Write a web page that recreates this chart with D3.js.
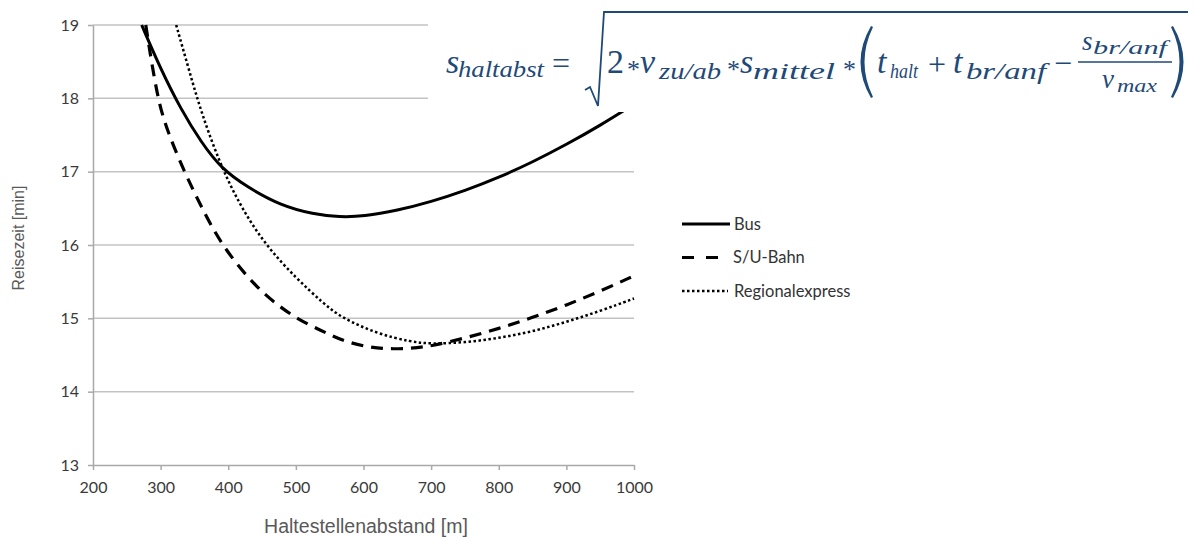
<!DOCTYPE html>
<meta charset="utf-8">
<style>
body { margin: 0; background: #fff; }
svg { display: block; }
.grid line { stroke: #c3c3c3; stroke-width: 1.5px; }
.axis path, .axis line { stroke: #a9a9a9; stroke-width: 1.5px; }
.axis text { font-family: Lato, sans-serif; font-size: 16px; fill: #3a3a3a; }
.title { font-family: "Liberation Sans", Arial, sans-serif; fill: #595959; }
.legend text { font-family: Lato, sans-serif; font-size: 16.5px; fill: #333; }
.f { font-family: "Liberation Serif", serif; font-style: italic; fill: #1f4a78; }
.f.up { font-style: normal; }
</style>
<body>
<script src="https://d3js.org/d3.v7.min.js"></script>
<script>

// tick values
var xTicks = [200, 300, 400, 500, 600, 700, 800, 900, 1000];
var yTicks = [13, 14, 15, 16, 17, 18, 19];

var seriesNames = ["Bus", "S/U-Bahn", "Regionalexpress"];

// [Haltestellenabstand m, Reisezeit min]
var bus = [[272, 19.0], [300, 18.4], [330, 17.85], [360, 17.4], [390, 17.04],
  [428, 16.79], [477, 16.54], [526, 16.42], [565, 16.38], [600, 16.39],
  [650, 16.47], [700, 16.59], [750, 16.74], [800, 16.92], [850, 17.13],
  [900, 17.37], [950, 17.63], [1000, 17.92]];
var sBahn = [[278, 19.0], [295, 18.0], [310, 17.55], [335, 17.0], [360, 16.52],
  [390, 16.0], [440, 15.42], [495, 15.02], [536, 14.84], [570, 14.69], [605, 14.61],
  [635, 14.58], [670, 14.59], [700, 14.62], [750, 14.73], [800, 14.86],
  [850, 15.01], [900, 15.18], [950, 15.37], [1000, 15.58]];
var regio = [[323, 19.0], [340, 18.45], [354, 18.0], [370, 17.55], [393, 17.0],
  [420, 16.5], [455, 16.0], [500, 15.55], [540, 15.21], [567, 15.01], [620, 14.79],
  [670, 14.68], [700, 14.65], [750, 14.67], [800, 14.73], [850, 14.82],
  [900, 14.95], [950, 15.1], [1000, 15.27]];

var series = [bus, sBahn, regio];

// set the dimensions and margins of the graph
var margin = {top: 25, left: 93},
    width = 541,
    height = 440;

var x = d3.scaleLinear().domain([200, 1000]).range([0, width]);
var y = d3.scaleLinear().domain([13, 19]).range([height, 0]);

// basis spline smooths out the reading noise in the points
var line = d3.line()
    .x(function(d) { return x(d[0]); })
    .y(function(d) { return y(d[1]); })
    .curve(d3.curveBasis);

var svg = d3.select("body").append("svg")
    .attr("width", 1198)
    .attr("height", 537);

var g = svg.append("g")
    .attr("transform", "translate(" + margin.left + "," + margin.top + ")");

// gridlines
g.append("g").attr("class", "grid")
  .selectAll("line").data(yTicks.slice(1)).enter().append("line")
    .attr("x1", 0).attr("x2", width)
    .attr("y1", function(d) { return y(d); })
    .attr("y2", function(d) { return y(d); });

// axes
g.append("g").attr("class", "axis")
    .attr("transform", "translate(0," + height + ")")
    .call(d3.axisBottom(x).tickValues(xTicks).tickFormat(d3.format("d"))
      .tickSize(5).tickPadding(12).tickSizeOuter(0));

g.append("g").attr("class", "axis")
    .call(d3.axisLeft(y).tickValues(yTicks).tickFormat(d3.format("d"))
      .tickSize(5).tickPadding(9).tickSizeOuter(0));

// curves
var styles = [
  {w: 3, dash: null},
  {w: 3.2, dash: "12,8"},
  {w: 2.5, dash: "2.5,2.5"}
];

g.selectAll(".curve").data(series).enter().append("path")
    .attr("class", "curve")
    .attr("fill", "none")
    .attr("stroke", "#000")
    .attr("stroke-width", function(d, i) { return styles[i].w; })
    .attr("stroke-dasharray", function(d, i) { return styles[i].dash; })
    .attr("d", line);

// axis titles
svg.append("text").attr("class", "title")
    .attr("transform", "translate(24,238) rotate(-90)")
    .attr("text-anchor", "middle")
    .style("font-size", "16px")
    .text("Reisezeit [min]");

svg.append("text").attr("class", "title")
    .attr("x", 366).attr("y", 533)
    .attr("text-anchor", "middle")
    .style("font-size", "19.5px")
    .text("Haltestellenabstand [m]");

// legend
var legendDash = [null, "12,12", "2.5,2.5"];
var leg = svg.append("g").attr("class", "legend")
  .selectAll("g").data(seriesNames).enter().append("g")
    .attr("transform", function(d, i) { return "translate(682," + (224 + i * 33.5) + ")"; });

leg.append("line")
    .attr("x1", 0).attr("x2", function(d, i) { return i == 1 ? 38 : (i == 0 ? 48 : 46); })
    .attr("stroke", "#000")
    .attr("stroke-width", function(d, i) { return styles[i].w; })
    .attr("stroke-dasharray", function(d, i) { return legendDash[i]; });

leg.append("text")
    .attr("x", function(d, i) { return i == 1 ? 51 : 52; })
    .attr("dy", "0.35em")
    .text(function(d) { return d; });

// formula box
var fg = svg.append("g");
fg.append("rect").attr("x", 428).attr("y", 0).attr("width", 770).attr("height", 112).attr("fill", "#fff");

// [text, x, baseline, size, width, upright]
var pieces = [
  ["s", 446, 73, 34, 0, 0], ["haltabst", 458, 77, 24, 86, 0],
  ["=", 552, 74, 32, 0, 1],
  ["2", 607, 73, 34, 0, 1], ["*", 627, 78, 26, 0, 1],
  ["v", 640, 73, 34, 0, 0], ["zu/ab", 659, 79, 24, 62, 0],
  ["*", 727, 78, 26, 0, 1],
  ["s", 740, 73, 34, 0, 0], ["mittel", 753, 79, 24, 82, 0],
  ["*", 843, 78, 26, 0, 1],
  ["t", 877, 73, 34, 0, 0], ["halt", 890, 78, 22, 28, 0],
  ["+", 928, 75, 32, 0, 1],
  ["t", 953, 73, 34, 0, 0], ["br/anf", 966, 79, 24, 80, 0],
  ["\u2212", 1054, 74, 32, 0, 1],
  ["s", 1082, 50, 27, 0, 0], ["br/anf", 1093, 54, 19, 74, 0],
  ["v", 1102, 88, 27, 0, 0], ["max", 1117, 92, 19, 40, 0]
];

pieces.forEach(function(p) {
  var t = fg.append("text").attr("class", p[5] ? "f up" : "f")
      .attr("x", p[1]).attr("y", p[2])
      .style("font-size", p[3] + "px")
      .text(p[0]);
  if (p[4]) t.attr("textLength", p[4]).attr("lengthAdjust", "spacingAndGlyphs");
});

// root sign, fraction bar and brackets
fg.append("path")
    .attr("d", "M585,90 L590,87 L598,106 L604,12 L1188,12")
    .attr("fill", "none").attr("stroke", "#1f4a78").attr("stroke-width", 1.8);
fg.append("line").attr("x1", 1078).attr("x2", 1172).attr("y1", 62).attr("y2", 62)
    .attr("stroke", "#1f4a78").attr("stroke-width", 1.6);
fg.append("path").attr("fill", "#1f4a78")
    .attr("d", "M871,26 Q850,62 871,98 L873,97 Q856,62 873,27 Z");
fg.append("path").attr("fill", "#1f4a78")
    .attr("d", "M1173,26 Q1194,62 1173,98 L1171,97 Q1188,62 1171,27 Z");

</script>
</body>
